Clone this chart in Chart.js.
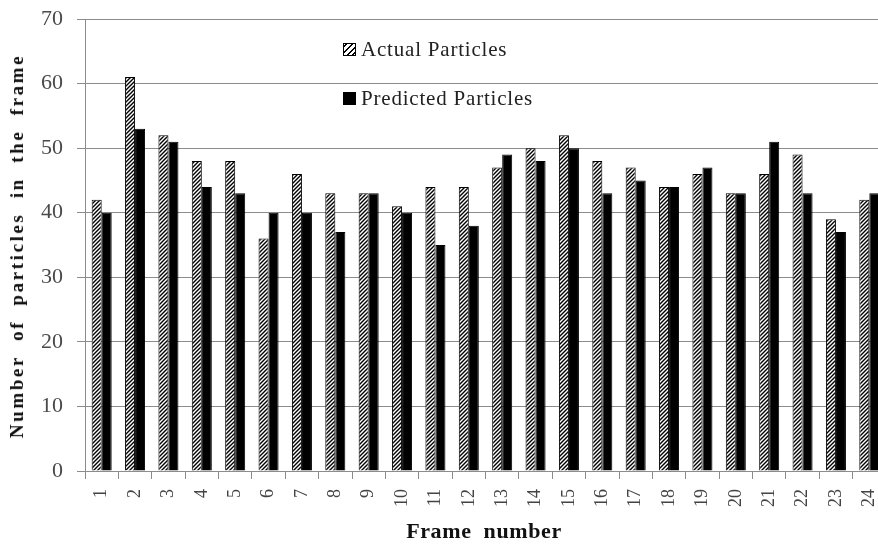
<!DOCTYPE html>
<html>
<head>
<meta charset="utf-8">
<script src="https://cdn.jsdelivr.net/npm/chart.js@4.4.1/dist/chart.umd.min.js"></script>
<style>
  html, body { margin: 0; padding: 0; background: #fff; overflow: hidden; }
  #wrap { position: relative; width: 886px; height: 545px; font-family: "Liberation Serif", "DejaVu Serif", serif; }
  .legend-item {
    position: absolute;
    left: 343px;
    font-size: 21px;
    letter-spacing: 0.8px;
    color: #222;
    display: flex;
    align-items: center;
    white-space: nowrap;
    line-height: 24px;
  }
  .swatch {
    width: 13px; height: 13px;
    border: 1px solid #000;
    margin-right: 5px;
    box-sizing: border-box;
  }
  .swatch.hatch {
    background: repeating-linear-gradient(135deg, #fff 0 1.4px, #000 1.4px 2.8px, #fff 2.8px 4px);
  }
  .swatch.solid { background: #000; }
  #ytitle {
    position: absolute;
    left: 17px;
    top: 246px;
    transform: translate(-50%, -50%) rotate(-90deg);
    font-size: 19px;
    font-weight: bold;
    letter-spacing: 2.6px;
    word-spacing: 7px;
    white-space: nowrap;
    color: #111;
  }
  #xtitle {
    position: absolute;
    left: 484px;
    top: 531px;
    transform: translate(-50%, -50%);
    font-size: 22px;
    font-weight: bold;
    letter-spacing: 0.6px;
    word-spacing: 6px;
    white-space: nowrap;
    color: #111;
  }
</style>
</head>
<body>
<div id="wrap">
  <canvas id="chart"></canvas>
  <div class="legend-item" style="top:37px;"><span class="swatch hatch"></span>Actual Particles</div>
  <div class="legend-item" style="top:86px;"><span class="swatch solid"></span>Predicted Particles</div>
  <div id="ytitle">Number of particles in the frame</div>
  <div id="xtitle">Frame number</div>
</div>
<script>
  // values
  const frames = ["1", "2", "3", "4", "5", "6", "7", "8", "9", "10", "11", "12",
                  "13", "14", "15", "16", "17", "18", "19", "20", "21", "22", "23", "24"];
  const actualParticles = [42, 61, 52, 48, 48, 36, 46, 43, 43, 41, 44, 44,
                           47, 50, 52, 48, 47, 44, 46, 43, 46, 49, 39, 42];
  const predictedParticles = [40, 53, 51, 44, 43, 40, 40, 37, 43, 40, 35, 38,
                              49, 48, 50, 43, 45, 44, 47, 43, 51, 43, 37, 43];
  const yTicks = [0, 10, 20, 30, 40, 50, 60, 70];

  // diagonal hatch fill for the "actual" bars
  function makeHatch() {
    const size = 4;
    const c = document.createElement("canvas");
    c.width = size;
    c.height = size;
    const ctx = c.getContext("2d");
    ctx.fillStyle = "#fff";
    ctx.fillRect(0, 0, size, size);
    ctx.strokeStyle = "#000";
    ctx.lineWidth = 1.4;
    ctx.beginPath();
    ctx.moveTo(0, size);
    ctx.lineTo(size, 0);
    ctx.moveTo(-1, 1);
    ctx.lineTo(1, -1);
    ctx.moveTo(size - 1, size + 1);
    ctx.lineTo(size + 1, size - 1);
    ctx.stroke();
    return ctx.createPattern(c, "repeat");
  }

  const serif = "'Liberation Serif', 'DejaVu Serif', serif";
  const gridGray = "#8c8c8c";

  new Chart(document.getElementById("chart"), {
    type: "bar",
    data: {
      labels: frames,
      datasets: [
        {
          label: "Actual Particles",
          data: actualParticles,
          backgroundColor: makeHatch(),
          borderColor: "#000",
          borderWidth: 1,
          categoryPercentage: 0.6,
          barPercentage: 1.0,
        },
        {
          label: "Predicted Particles",
          data: predictedParticles,
          backgroundColor: "#000",
          borderColor: "#000",
          borderWidth: 1,
          categoryPercentage: 0.6,
          barPercentage: 1.0,
        },
      ],
    },
    options: {
      responsive: true,
      maintainAspectRatio: false,
      animation: false,
      layout: { padding: { top: 19, left: 0, right: 0, bottom: 0 } },
      plugins: {
        legend: { display: false },
        tooltip: { enabled: false },
      },
      scales: {
        x: {
          afterFit: (scale) => {
            scale.height = 74;
            scale.paddingLeft = 0;
            scale.paddingRight = 0;
          },
          ticks: {
            minRotation: 90,
            maxRotation: 90,
            padding: 10,
            color: "#444",
            font: { family: serif, size: 18 },
          },
          grid: {
            drawOnChartArea: false,
            drawTicks: true,
            tickLength: 8,
            color: gridGray,
            offset: true,
          },
          border: { color: gridGray, width: 1 },
        },
        y: {
          min: 0,
          max: 70,
          afterFit: (scale) => {
            scale.width = 85;
            scale.paddingTop = 0;
            scale.paddingBottom = 0;
          },
          afterBuildTicks: (scale) => {
            scale.ticks = yTicks.map((v) => ({ value: v }));
          },
          ticks: {
            padding: 14,
            color: "#4a4a4a",
            font: { family: serif, size: 22 },
          },
          grid: {
            color: gridGray,
            tickLength: 8,
          },
          border: { color: gridGray, width: 1 },
        },
      },
    },
  });
</script>
</body>
</html>
